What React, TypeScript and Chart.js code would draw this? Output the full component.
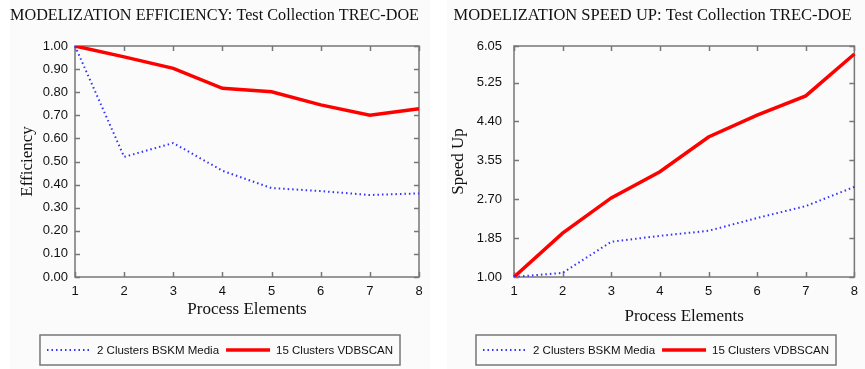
import React, { useEffect, useRef } from "react";
import { Chart, registerables } from "chart.js";

Chart.register(...registerables);

// ---------- data ----------
const processElements = ["1", "2", "3", "4", "5", "6", "7", "8"];
const seriesLabels = ["2 Clusters BSKM Media", "15 Clusters VDBSCAN"];

const efficiencyTicks = [0, 0.1, 0.2, 0.3, 0.4, 0.5, 0.6, 0.7, 0.8, 0.9, 1.0];
const efficiencyBskm = [1.0, 0.52, 0.58, 0.46, 0.385, 0.372, 0.355, 0.362];
const efficiencyVdbscan = [1.0, 0.953, 0.903, 0.817, 0.802, 0.745, 0.7, 0.728];

const speedTicks = [1.0, 1.85, 2.7, 3.55, 4.4, 5.25, 6.05];
const speedBskm = [1.0, 1.09, 1.77, 1.9, 2.01, 2.29, 2.55, 2.97];
const speedVdbscan = [1.0, 1.96, 2.73, 3.3, 4.06, 4.54, 4.96, 5.875];

// ---------- styles ----------
const SERIF = '"Liberation Serif", "Times New Roman", serif';
const SANS = '"Liberation Sans", Arial, Helvetica, sans-serif';
const BLUE = "rgb(50,50,255)";
const RED = "rgb(255,0,0)";
const FRAME = "#777777";

const framePlugin = {
  id: "frameAndLegend",
  beforeDatasetsDraw(chart: any) {
    const { ctx, chartArea: a, scales } = chart;
    ctx.save();
    ctx.strokeStyle = FRAME;
    ctx.lineWidth = 1.5;
    ctx.strokeRect(a.left, a.top, a.right - a.left, a.bottom - a.top);
    const tl = 5;
    ctx.beginPath();
    scales.y.ticks.forEach((t: any) => {
      const y = Math.round(scales.y.getPixelForValue(t.value)) + 0.5;
      ctx.moveTo(a.left, y);
      ctx.lineTo(a.left + tl, y);
      ctx.moveTo(a.right, y);
      ctx.lineTo(a.right - tl, y);
    });
    scales.x.ticks.forEach((_t: any, i: number) => {
      const x = Math.round(scales.x.getPixelForTick(i)) + 0.5;
      ctx.moveTo(x, a.top);
      ctx.lineTo(x, a.top + tl);
      ctx.moveTo(x, a.bottom);
      ctx.lineTo(x, a.bottom - tl);
    });
    ctx.stroke();
    ctx.restore();
  },
  afterDraw(chart: any, _args: any, opts: any) {
    const { ctx } = chart;
    const datasets = chart.data.datasets;
    ctx.save();
    ctx.font = `11.5px ${SANS}`;
    const sampleW = 44;
    const gapSample = 6;
    const gapItems = 7;
    const padX = 7;
    const widths = datasets.map(
      (d: any) => sampleW + gapSample + ctx.measureText(d.label).width
    );
    const total =
      widths.reduce((s: number, w: number) => s + w, 0) +
      gapItems * (datasets.length - 1);
    const boxW = total + padX * 2;
    const boxL = (chart.width - boxW) / 2;
    const boxT = opts.top;
    const boxH = opts.height;
    ctx.strokeStyle = FRAME;
    ctx.lineWidth = 1.5;
    ctx.strokeRect(boxL, boxT, boxW, boxH);
    const cy = boxT + boxH / 2;
    let x = boxL + padX;
    datasets.forEach((d: any, i: number) => {
      ctx.save();
      ctx.strokeStyle = d.borderColor;
      ctx.lineWidth = d.borderWidth;
      ctx.setLineDash(d.borderDash || []);
      ctx.beginPath();
      ctx.moveTo(x, cy);
      ctx.lineTo(x + sampleW, cy);
      ctx.stroke();
      ctx.restore();
      ctx.fillStyle = "#111";
      ctx.textAlign = "left";
      ctx.textBaseline = "middle";
      ctx.fillText(d.label, x + sampleW + gapSample, cy + 0.5);
      x += widths[i] + gapItems;
    });
    ctx.restore();
  },
};

function makeConfig(p: any) {
  return {
    type: "line",
    data: {
      labels: processElements,
      datasets: [
        {
          label: seriesLabels[0],
          data: p.bskm,
          borderColor: BLUE,
          borderWidth: 2,
          borderDash: [1.5, 3],
          pointRadius: 0,
          tension: 0,
          fill: false,
        },
        {
          label: seriesLabels[1],
          data: p.vdbscan,
          borderColor: RED,
          borderWidth: 3.5,
          pointRadius: 0,
          tension: 0,
          fill: false,
        },
      ],
    },
    options: {
      responsive: false,
      animation: false,
      events: [],
      layout: { padding: { left: 0, right: p.padRight, top: 0, bottom: p.padBottom } },
      plugins: {
        legend: { display: false },
        tooltip: { enabled: false },
        title: {
          display: true,
          text: p.title,
          color: "#111",
          font: { family: SERIF, size: 16.5, weight: "normal" },
          padding: { top: 6, bottom: 20.2 },
        },
        frameAndLegend: { top: 335, height: 30 },
      },
      scales: {
        x: {
          type: "category",
          offset: false,
          grid: { display: false, drawTicks: false, tickLength: 0 },
          border: { display: false },
          ticks: {
            color: "#111",
            font: { family: SANS, size: 13 },
            padding: 7,
            maxRotation: 0,
            autoSkip: false,
          },
          title: {
            display: true,
            text: "Process Elements",
            color: "#111",
            font: { family: SERIF, size: 17, weight: "normal" },
            padding: { top: 0, bottom: 0 },
          },
          afterFit(scale: any) {
            scale.height = p.xHeight;
          },
        },
        y: {
          type: "linear",
          min: p.ticks[0],
          max: p.ticks[p.ticks.length - 1],
          grid: { display: false, drawTicks: false, tickLength: 0 },
          border: { display: false },
          afterBuildTicks(scale: any) {
            scale.ticks = p.ticks.map((v: number) => ({ value: v }));
          },
          ticks: {
            color: "#111",
            font: { family: SANS, size: 13 },
            padding: p.yPad,
            callback: (v: any) => Number(v).toFixed(2),
          },
          title: {
            display: true,
            text: p.yTitle,
            color: "#111",
            font: { family: SERIF, size: 17, weight: "normal" },
            padding: { top: p.yTitlePad, bottom: 0 },
          },
          afterFit(scale: any) {
            scale.width = p.yWidth;
          },
        },
      },
    },
    plugins: [framePlugin],
  };
}

function ChartPanel({ left, width, params }: any) {
  const ref = useRef<HTMLCanvasElement | null>(null);
  useEffect(() => {
    if (!ref.current) return;
    const chart = new Chart(ref.current, makeConfig(params) as any);
    return () => chart.destroy();
  }, []);
  return (
    <div
      style={{
        position: "absolute",
        left,
        top: 0,
        width,
        height: 369,
        background: "#fbfbfb",
      }}
    >
      <canvas ref={ref} width={width} height={369} style={{ display: "block" }} />
    </div>
  );
}

export default function App() {
  const effParams = {
    title: "MODELIZATION EFFICIENCY: Test Collection TREC-DOE",
    yTitle: "Efficiency",
    ticks: efficiencyTicks,
    bskm: efficiencyBskm,
    vdbscan: efficiencyVdbscan,
    yWidth: 65,
    yPad: 7,
    yTitlePad: 7,
    padRight: 11,
    xHeight: 43,
    padBottom: 49,
  };
  const speedParams = {
    title: "MODELIZATION SPEED UP: Test Collection TREC-DOE",
    yTitle: "Speed Up",
    ticks: speedTicks,
    bskm: speedBskm,
    vdbscan: speedVdbscan,
    yWidth: 67,
    yPad: 12,
    yTitlePad: 1,
    padRight: 7,
    xHeight: 50,
    padBottom: 42,
  };
  return (
    <div style={{ position: "absolute", left: 0, top: 0, width: 865, height: 369, background: "#fff" }}>
      <ChartPanel left={10} width={420} params={effParams} />
      <ChartPanel left={447} width={418} params={speedParams} />
    </div>
  );
}
